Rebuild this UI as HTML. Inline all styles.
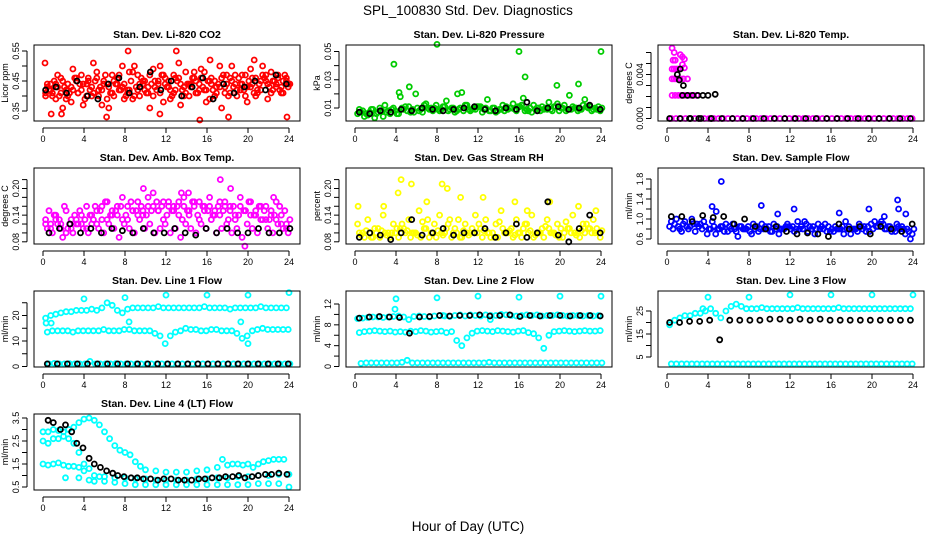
<!DOCTYPE html>
<html><head><meta charset="utf-8"><style>
html,body{margin:0;padding:0;background:#fff;}
svg{display:block;font-family:"Liberation Sans",sans-serif;}
</style></head><body>
<svg id="c" width="936" height="540" viewBox="0 0 936 540">
<text x="468" y="15" text-anchor="middle" font-size="13.5">SPL_100830  Std. Dev. Diagnostics</text>
<text x="468" y="531" text-anchor="middle" font-size="13.5">Hour of Day (UTC)</text>
</svg>
<script>
// ---- data arrays ----
const hourTicks = [0,4,8,12,16,20,24];
const co2Red1 = [.41,.44,.39,.46,.42,.38,.45,.47,.40,.43,.48,.37,.44,.41,.46,.50,.42,.39,.47,.44,.41,.49,.45,.38,.43,.47,.51,.40,.44,.46,.42,.48,.39,.45,.50,.43,.41,.47,.44,.40,.49,.46,.42,.45,.48,.43,.41,.46];
const co2Red2 = [.43,.40,.47,.36,.44,.49,.41,.37,.46,.51,.40,.44,.36,.45,.42,.39,.48,.50,.40,.45,.36,.43,.50,.46,.39,.42,.37,.48,.44,.41,.49,.38,.46,.43,.36,.47,.50,.40,.44,.38,.46,.42,.50,.39,.45,.47,.41,.44];
const co2Red3 = [.42,.45,.40,.43,.41,.46,.44,.39,.42,.45,.43,.47,.41,.44,.42,.40,.45,.43,.46,.41,.44,.42,.47,.43,.40,.45,.42,.44,.46,.41,.43,.45,.42,.44,.47,.40,.43,.46,.42,.45,.41,.44,.46,.43,.45,.42,.47,.44];
const co2Red4 = [.40,.42,.44,.41,.39,.43,.46,.42,.44,.40,.46,.42,.39,.47,.44,.43,.41,.48,.42,.45,.43,.40,.44,.47,.45,.41,.46,.43,.40,.48,.44,.42,.45,.40,.43,.41,.46,.44,.42,.47,.43,.40,.45,.47,.41,.44,.43,.45];
const co2Red5 = [.44,.41,.43,.45,.40,.42,.41,.44,.45,.41,.42,.45,.43,.40,.47,.44,.42,.40,.44,.42,.47,.45,.41,.44,.42,.46,.44,.41,.43,.45,.46,.42,.44,.41,.46,.44,.45,.42,.47,.43,.44,.41,.47,.44,.42,.46,.45,.43];
const co2OutX = [0.2,8.3,13,16.3,20.6,0.8,1.8,6.2,11.4,18.1,15.3,23.8];
const co2OutY = [.51,.55,.55,.52,.52,.34,.34,.33,.34,.33,.32,.33];
const co2Black = [.42,.43,.41,.45,.40,.39,.44,.46,.41,.43,.48,.42,.45,.40,.43,.46,.39,.44,.41,.43,.45,.42,.47,.44];

const presG1 = [.006,.008,.005,.009,.007,.004,.008,.010,.006,.009,.011,.007,.008,.012,.009,.010,.008,.011,.009,.007,.010,.012,.008,.009,.011,.010,.008,.007,.009,.011,.010,.008,.012,.009,.007,.010,.011,.009,.008,.013,.010,.009,.011,.008,.012,.010,.009,.011];
const presG2 = [.009,.004,.007,.003,.010,.012,.006,.008,.018,.011,.007,.020,.009,.013,.010,.012,.009,.015,.010,.008,.021,.012,.009,.011,.007,.016,.010,.008,.012,.009,.013,.011,.017,.008,.012,.010,.009,.014,.011,.008,.012,.019,.010,.009,.016,.011,.010,.008];
const presG3 = [.007,.006,.009,.006,.008,.007,.009,.006,.010,.008,.009,.010,.007,.010,.008,.009,.011,.008,.010,.009,.008,.009,.010,.011,.009,.008,.010,.009,.008,.010,.009,.011,.008,.010,.009,.008,.010,.009,.011,.010,.008,.009,.010,.009,.011,.008,.009,.010];
const presOutX = [3.8,4.3,5.3,8,10,16,16.6,19.7,21.8,24];
const presOutY = [.041,.021,.025,.055,.020,.050,.032,.026,.027,.050];
const presBlack = [.007,.006,.008,.007,.009,.008,.010,.009,.008,.009,.010,.011,.009,.008,.010,.009,.014,.008,.010,.011,.009,.010,.012,.009];

const tempMagX = [0.5,0.7,1.3,1.5,1.7,0.6,0.8,1.5,1.7,0.5,0.7,0.9,1.1,0.5,0.7,0.9,1.1,1.3,1.6,2.0,0.5,0.8,1.1,1.4,1.7,2.0,2.3,2.6,2.9];
const tempMagY = [.0064,.0060,.0058,.0056,.0054,.0053,.0053,.0049,.0046,.0045,.0045,.0045,.0045,.0036,.0036,.0036,.0036,.0036,.0036,.0036,.0021,.0021,.0021,.0021,.0021,.0021,.0021,.0021,.0021];
const tempZeroMag = new Array(52).fill(0);
const tempBlackX = [1.0,1.2,1.5,2.0,2.5,3.0,3.5,4.0,4.7,1.3,1.6,2.2,3.1,4.3];
const tempBlackY = [.004,.0035,.0021,.0021,.0021,.0021,.0021,.0021,.0022,.0045,.003,0,0,0];
const tempBlackZero = new Array(24).fill(0);

const ambM1 = [.13,.12,.14,.11,.15,.13,.12,.14,.16,.12,.15,.13,.17,.14,.16,.18,.13,.15,.17,.14,.16,.19,.15,.13,.17,.16,.14,.18,.15,.17,.13,.16,.18,.15,.14,.17,.16,.13,.18,.15,.17,.14,.16,.13,.15,.17,.14,.12];
const ambM2 = [.11,.10,.12,.09,.11,.10,.12,.11,.10,.13,.11,.10,.12,.11,.09,.12,.11,.10,.13,.11,.12,.10,.11,.12,.10,.11,.09,.12,.11,.10,.12,.11,.13,.10,.11,.12,.10,.11,.09,.12,.11,.10,.13,.11,.10,.12,.11,.10];
const ambM3 = [.15,.14,.13,.16,.12,.14,.15,.13,.14,.16,.15,.17,.14,.15,.16,.14,.17,.15,.16,.14,.15,.17,.16,.14,.15,.16,.13,.15,.17,.14,.16,.15,.14,.16,.15,.13,.16,.14,.15,.17,.14,.16,.15,.13,.14,.16,.15,.13];
const ambM4 = [.12,.11,.13,.12,.10,.11,.13,.12,.11,.14,.12,.16,.13,.15,.14,.13,.16,.15,.14,.15,.18,.16,.15,.17,.16,.15,.17,.16,.14,.16,.17,.15,.16,.14,.17,.16,.15,.14,.16,.15,.14,.15,.13,.16,.14,.13,.12,.11];
const ambOutX = [9.8,13.5,14.2,17.3,18.3,22.5,19.7];
const ambOutY = [.20,.19,.19,.22,.20,.18,.07];
const ambBlack = [.10,.11,.12,.10,.11,.10,.11,.105,.10,.11,.10,.10,.11,.10,.095,.11,.10,.11,.10,.10,.11,.10,.10,.11];

const rhY1 = [.12,.10,.13,.09,.11,.14,.10,.12,.09,.11,.13,.10,.15,.11,.09,.12,.14,.10,.13,.11,.09,.12,.10,.14,.11,.13,.09,.12,.15,.10,.11,.13,.09,.12,.14,.10,.11,.13,.10,.12,.09,.11,.14,.10,.12,.11,.13,.10];
const rhY2 = [.10,.09,.10,.11,.09,.10,.09,.10,.11,.10,.09,.10,.09,.11,.10,.09,.10,.11,.09,.10,.09,.10,.11,.10,.09,.10,.10,.09,.11,.10,.09,.10,.11,.10,.09,.10,.09,.11,.10,.09,.10,.11,.10,.09,.10,.11,.10,.09];
const rhY3 = [.095,.105,.09,.10,.105,.095,.10,.11,.12,.105,.10,.095,.125,.13,.10,.105,.095,.12,.10,.13,.105,.095,.10,.12,.105,.10,.09,.125,.10,.105,.095,.10,.12,.105,.095,.10,.115,.10,.095,.11,.125,.10,.095,.105,.12,.10,.11,.105];
const rhOutX = [0.3,4.5,4.2,5.5,8.5,9,10.3,12.5,15.6,16.8,19,21.8,23.5,2.8,7];
const rhOutY = [.16,.22,.19,.21,.21,.20,.18,.18,.17,.15,.17,.16,.15,.16,.17];
const rhBlack = [.09,.10,.095,.085,.10,.13,.095,.10,.11,.095,.10,.10,.11,.09,.10,.12,.09,.10,.17,.095,.08,.11,.14,.10];

const flowB1 = [.85,.9,.8,.95,.85,.75,.9,.85,.8,.7,.85,.9,.8,.75,.85,.8,.7,.85,.9,.8,.75,.85,.8,.9,.85,.95,.8,.75,.85,.9,.8,.85,.75,.8,.7,.85,.8,.9,.85,.75,.95,.9,.8,.85,.75,.8,.7,.6];
const flowB2 = [.95,1.0,.75,.85,1.0,.9,.8,.7,.95,.8,.85,.75,.9,.65,.8,.85,.9,.75,.8,.85,.9,.7,.8,.85,.75,.8,.95,.85,.7,.8,.9,.75,.85,.8,.95,.7,.8,.85,.75,.9,.85,.95,.8,.75,.9,.85,.8,.7];
const flowB3 = [.8,.85,.9,.8,.9,.85,.95,.8,.85,.8,.75,.85,.8,.85,.8,.75,.8,.8,.85,.75,.8,.8,.85,.8,.8,.85,.9,.8,.8,.85,.75,.8,.8,.85,.8,.8,.75,.8,.85,.8,.85,.9,.85,.8,.85,.8,.75,.8];
const flowOutX = [5.3,4.4,4.8,9.2,10.8,12.4,16.8,19.7,21.2,22.5,22.6,23.3];
const flowOutY = [1.75,1.25,1.15,1.27,1.1,1.2,1.12,1.2,1.05,1.38,1.2,1.1];
const flowBlack = [1.05,1.05,.95,1.07,1.03,1.05,.9,1.0,.85,.8,.85,.75,.7,.72,.7,.65,.9,.8,.85,.7,.85,.8,.75,.9];

const l1Up = [19,20,20.5,21,21.5,21.5,22,22,22,22.5,22,23,25,24,22,21,22.5,23,23,23,23,23,23.5,23,23,23,23,23,23,23,23,23.5,23,23,23,23,22.5,23,23,23,23,23,23.5,23,23,23,23,23];
const l1Mid = [13.5,14,14,14,14,13.5,14,14,14,14,14,14.5,14,14,14,14.5,14.5,14,14,14,14,13,12,9,12,13.5,14,15,14.5,14.5,14,14,14.5,14.5,14,14,14,13,11,12,14,14.5,15,14.5,14.5,14.5,14.5,14.5];
const l1Low = [1,1.2,1,1,1.1,1,1,1,2,1,1,1,1,1.1,1,1,1,1,1,1,1,1,1,1,1,1,1,1,1,1,1,1,1,1,1,1,1,1,1,1,1,1,1,1,1,1,1,1];
const l1OutX = [0.3,0.8,4,8,12,16,20,24,8.4,19.3,20];
const l1OutY = [17,17,26.5,27,28,28,28,29,17.5,17.5,9];
const l1Black = [1,1,1,1,1,1,1,1,1,1,1,1,1,1,1,1,1,1,1,1,1,1,1,1,1];

const l2Up = [9.2,9.3,9.4,9.5,9.5,9.4,9.5,9.6,9.7,9.5,9.0,9.6,9.7,9.6,9.5,9.7,9.8,9.7,9.6,9.8,9.9,9.7,9.9,9.8,9.7,9.9,9.8,9.8,10,9.9,9.8,9.7,9.8,9.9,9.8,9.9,9.7,9.8,9.8,9.9,9.8,9.7,9.8,9.8,9.7,9.8,9.7,9.8];
const l2Mid = [6.5,6.7,6.8,6.9,6.8,6.7,6.8,6.6,6.7,6.6,6.8,6.7,6.9,6.8,6.6,6.7,6.8,6.5,6.7,5,4,5.5,6.4,6.8,6.9,6.8,6.7,6.9,6.8,6.7,6.6,6.8,6.9,6.5,6.3,5.5,3.5,6,6.7,6.8,6.9,6.8,6.7,6.8,6.9,6.8,6.8,6.9];
const l2Low = [0.6,0.7,0.7,0.7,0.7,0.7,0.7,0.7,0.8,1.2,0.7,0.7,0.7,0.7,0.7,0.7,0.7,0.7,0.7,0.7,0.7,0.7,0.7,0.7,0.7,0.8,0.7,0.7,0.7,0.7,0.7,0.7,0.7,0.7,0.7,0.7,0.7,0.7,0.7,0.7,0.7,0.7,0.7,0.7,0.7,0.7,0.7,0.7];
const l2OutX = [4,8,12,16,20,24,3.9,8.6,13.2];
const l2OutY = [13,13.2,13.5,13.3,13.5,13.5,11,9.8,9.0];
const l2Black = [9.3,9.5,9.6,9.5,9.4,6.4,9.5,9.6,9.8,9.7,9.8,9.8,9.9,9.7,9.8,9.9,9.6,9.8,9.7,9.8,9.8,9.7,9.8,9.8,9.7];

const l3Up = [19,21,22,23,23,24,24,25,26,24,22,25,27,28,27,26,26,26,26.5,26,26,26,26,26,26,26.5,26,26,26,26,26,26,26,26.5,26,26,26,26,26,26,26,26,26,26,26,26,26,26];
const l3Low = new Array(48).fill(2);
const l3OutX = [4,8,12,16,20,24,3.5];
const l3OutY = [31,31,32,32,32,32,26];
const l3Black = [20,20,20.5,20.5,21,12.5,21,21,21,21,21.5,21.5,21,21.5,21,21.5,21,21,21,21,21,21,21,21,21];

const l4AX = [0,0.5,1,1.5,2,2.5,3,3.5,4,4.5,5,5.5,6,6.5,7,7.5,8,8.5,9,9.5,10,11,12,13,14,15,16,17,17.5,18,18.5,19,19.5,20,20.5,21,21.5,22,22.5,23,23.5];
const l4AY = [2.9,2.9,3.0,2.95,2.9,3.0,3.1,3.3,3.45,3.5,3.4,3.2,2.9,2.6,2.3,2.1,2.0,1.9,1.6,1.4,1.25,1.2,1.15,1.15,1.15,1.2,1.25,1.35,1.7,1.45,1.5,1.5,1.45,1.5,1.35,1.5,1.6,1.65,1.7,1.7,1.7];
const l4BX = [0,0.5,1,1.5,2,2.5,3,3.5,4,4.5,5,5.5,6,7,8,9,10,11,12,13,14,15,16,17,18,19,20,21,22,23,24];
const l4BY = [2.5,2.4,2.6,2.6,2.7,2.6,2.4,2.0,1.5,1.3,1.0,0.95,0.95,0.9,0.9,0.85,0.85,0.8,0.8,0.8,0.8,0.85,0.85,0.9,0.9,0.95,0.95,1.0,1.0,1.05,1.05];
const l4CX = [0,0.5,1,1.5,2,2.5,3,3.5,4,4.5,5,6,7,8,9,10,11,12,13,14,15,16,17,18,19,20,21,22,23,24,2.2,3.5];
const l4CY = [1.5,1.45,1.5,1.55,1.45,1.4,1.4,1.35,1.2,0.8,0.75,0.75,0.7,0.65,0.6,0.6,0.6,0.6,0.6,0.6,0.6,0.6,0.6,0.6,0.6,0.6,0.65,0.65,0.65,0.5,0.9,0.9];
const l4BlackX = [0.5,1,1.7,2.2,2.8,3.3,3.9,4.5,5,5.6,6.2,6.8,7.3,7.9,8.6,9.2,9.8,10.5,11.2,11.8,12.5,13.2,13.8,14.5,15.2,15.8,16.5,17.2,17.8,18.5,19.1,19.7,20.4,21,21.7,22.3,23,23.8];
const l4BlackY = [3.4,3.3,3.0,3.2,2.9,2.4,2.2,1.75,1.5,1.35,1.2,1.1,1.0,0.95,0.9,0.9,0.85,0.85,0.8,0.85,0.85,0.8,0.8,0.8,0.85,0.85,0.9,0.9,0.95,0.95,1.0,0.9,0.95,1.0,1.05,1.05,1.1,1.05];

// ---- rendering ----
const NS = "http://www.w3.org/2000/svg";
const svg = document.getElementById('c');
function mk(tag, attrs, parent){const e=document.createElementNS(NS,tag);for(const k in attrs)e.setAttribute(k,attrs[k]);(parent||svg).appendChild(e);return e;}
function even(n,off){const a=[];for(let i=0;i<n;i++)a.push(0.25+(off||0)+i*(23.5/(n-1)));return a;}

function panel(col,row,key,title,ylab,yTicks,yLabels,v1,p1,v2,p2,series){
  const L=34+col*312, R=L+266, T=45+row*123, B=T+76;
  const g=mk('g',{});
  
  
  const xs=h=>43+col*312+h*(246/24);
  const ys=v=>p1+(v-v1)*(p2-p1)/(v2-v1);
  const t=mk('text',{x:(L+R)/2,y:T-7,'text-anchor':'middle','font-size':10.5,'font-weight':'bold'},g);
  t.textContent=title;
  
  
  const cg=mk('g',{},g);
  
  
  series.forEach((s,si)=>{
    const xv=s.x||even(s.y.length, (si%3)*0.17);
    s.y.forEach((v,i)=>{
      const c=mk('circle',{cx:xs(xv[i]).toFixed(1),cy:ys(v).toFixed(1),r:2.5,fill:'none',stroke:s.c,'stroke-width':1.8},cg);
      
      
    });
  });
  const box=mk('rect',{x:L,y:T,width:R-L,height:B-T,fill:'none',stroke:'#000','stroke-width':1},g);
  
  
  const xa=mk('g',{},g);
  
  
  mk('line',{x1:xs(0),x2:xs(24),y1:B+7,y2:B+7,stroke:'#000'},xa);
  hourTicks.forEach(h=>{
    mk('line',{x1:xs(h),x2:xs(h),y1:B+7,y2:B+12,stroke:'#000'},xa);
    const tl=mk('text',{x:xs(h),y:B+21,'text-anchor':'middle','font-size':9},xa);
    tl.textContent=h;
  });
  const ya=mk('g',{},g);
  
  
  mk('line',{x1:L-7,x2:L-7,y1:ys(yTicks[0]),y2:ys(yTicks[yTicks.length-1]),stroke:'#000'},ya);
  yTicks.forEach((v,i)=>{
    const y=ys(v);
    mk('line',{x1:L-12,x2:L-7,y1:y,y2:y,stroke:'#000'},ya);
    if(yLabels[i]){
      const tl=mk('text',{x:L-15,y:y,'text-anchor':'middle','font-size':9,transform:`rotate(-90 ${L-15} ${y})`},ya);
      tl.textContent=yLabels[i];
    }
  });
  const yl=mk('text',{x:L-26,y:(T+B)/2,'text-anchor':'middle','font-size':9,transform:`rotate(-90 ${L-26} ${(T+B)/2})`},g);
  yl.textContent=ylab;
  
  
}

const RED='#ff0000',BLK='#000',GRN='#00cc00',MAG='#ff00ff',YEL='#ffff00',BLU='#0000ff',CYN='#00ffff';

panel(0,0,'co2','Stan. Dev. Li-820 CO2','Licor ppm',[.35,.40,.45,.50,.55],['0.35','','0.45','','0.55'],.35,111,.55,51,
 [{y:co2Red1,c:RED},{y:co2Red2,c:RED},{y:co2Red3,c:RED},{y:co2Red4,c:RED},{y:co2Red5,c:RED},{x:co2OutX,y:co2OutY,c:RED},{y:co2Black,c:BLK}]);
panel(1,0,'pressure','Stan. Dev. Li-820 Pressure','kPa',[.01,.02,.03,.04,.05],['0.01','','0.03','','0.05'],.01,108,.05,51.5,
 [{y:presG1,c:GRN},{y:presG2,c:GRN},{y:presG3,c:GRN},{x:presOutX,y:presOutY,c:GRN},{y:presBlack,c:BLK}]);
panel(2,0,'temp','Stan. Dev. Li-820 Temp.','degrees C',[0,.001,.002,.003,.004,.005,.006],['0.000','','','','0.004','',''],0,118.5,.004,74.5,
 [{x:tempMagX,y:tempMagY,c:MAG},{y:tempZeroMag,c:MAG},{x:tempBlackX,y:tempBlackY,c:BLK},{y:tempBlackZero,c:BLK}]);
panel(0,1,'amb-box-temp','Stan. Dev. Amb. Box Temp.','degrees C',[.08,.10,.12,.14,.16,.18,.20,.22],['0.08','','','0.14','','','0.20',''],.08,241.8,.22,179.6,
 [{y:ambM1,c:MAG},{y:ambM2,c:MAG},{y:ambM3,c:MAG},{y:ambM4,c:MAG},{x:ambOutX,y:ambOutY,c:MAG},{y:ambBlack,c:BLK}]);
panel(1,1,'gas-rh','Stan. Dev. Gas Stream RH','percent',[.08,.10,.12,.14,.16,.18,.20,.22],['0.08','','','0.14','','','0.20',''],.08,241.8,.22,179.6,
 [{y:rhY1,c:YEL},{y:rhY2,c:YEL},{y:rhY3,c:YEL},{x:rhOutX,y:rhOutY,c:YEL},{y:rhBlack,c:BLK}]);
panel(2,1,'sample-flow','Stan. Dev. Sample Flow','ml/min',[.6,.8,1.0,1.2,1.4,1.6,1.8],['0.6','','1.0','','1.4','','1.8'],.6,239,1.8,179,
 [{y:flowB1,c:BLU},{y:flowB2,c:BLU},{y:flowB3,c:BLU},{x:flowOutX,y:flowOutY,c:BLU},{y:flowBlack,c:BLK}]);
panel(0,2,'line1-flow','Stan. Dev. Line 1 Flow','ml/min',[0,5,10,15,20,25],['0','','10','','20',''],0,366.5,20,315.5,
 [{y:l1Up,c:CYN},{y:l1Mid,c:CYN},{y:l1Low,c:CYN},{x:l1OutX,y:l1OutY,c:CYN},{y:l1Black,c:BLK}]);
panel(1,2,'line2-flow','Stan. Dev. Line 2 Flow','ml/min',[0,2,4,6,8,10,12],['0','','4','','8','','12'],0,366.5,12,304,
 [{y:l2Up,c:CYN},{y:l2Mid,c:CYN},{y:l2Low,c:CYN},{x:l2OutX,y:l2OutY,c:CYN},{y:l2Black,c:BLK}]);
panel(2,2,'line3-flow','Stan. Dev. Line 3 Flow','ml/min',[5,10,15,20,25],['5','','15','','25'],5,357,25,311,
 [{y:l3Up,c:CYN},{y:l3Low,c:CYN},{x:l3OutX,y:l3OutY,c:CYN},{y:l3Black,c:BLK}]);
panel(0,3,'line4-flow','Stan. Dev. Line 4 (LT) Flow','ml/min',[.5,1,1.5,2,2.5,3,3.5],['0.5','','1.5','','2.5','','3.5'],.5,487,3.5,418,
 [{x:l4AX,y:l4AY,c:CYN},{x:l4BX,y:l4BY,c:CYN},{x:l4CX,y:l4CY,c:CYN},{x:l4BlackX,y:l4BlackY,c:BLK}]);
</script>
</body></html>
